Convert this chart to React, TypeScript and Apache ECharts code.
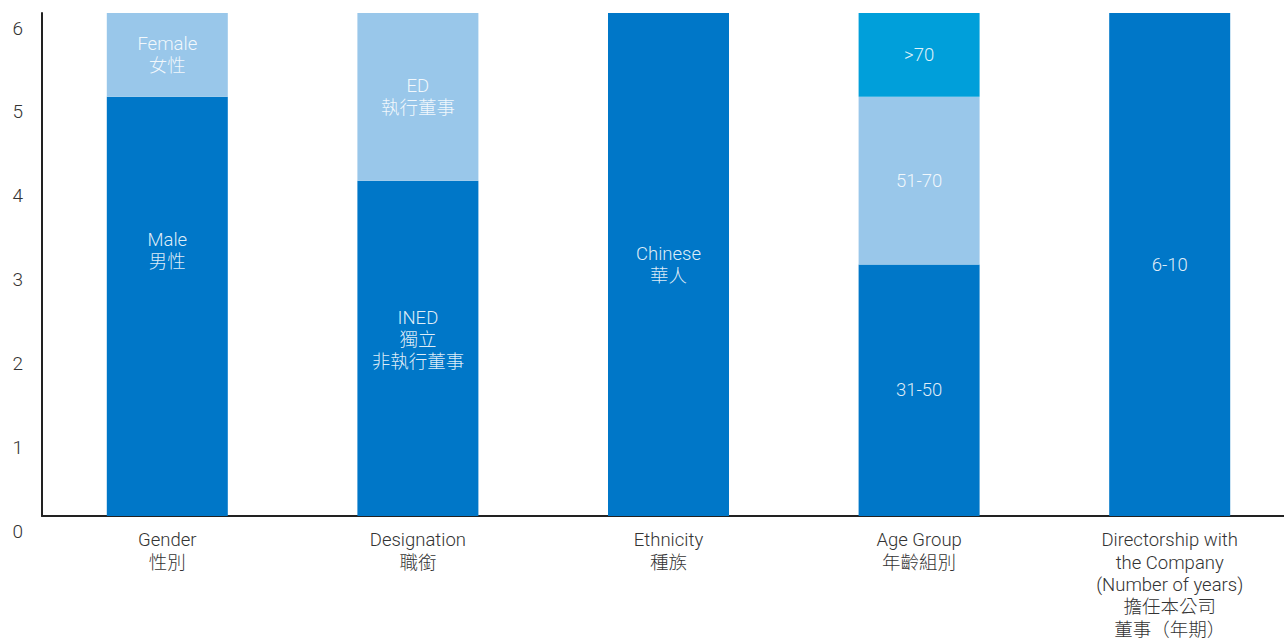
import React, { useEffect, useRef } from "react";
import * as echarts from "echarts";

const categories = [
  "Gender\n性別",
  "Designation\n職銜",
  "Ethnicity\n種族",
  "Age Group\n年齡組別",
  "Directorship with\nthe Company\n(Number of years)\n擔任本公司\n董事（年期）",
];
const yTicks = [0, 1, 2, 3, 4, 5, 6];

const baseValues = [5, 4, 6, 3, 6];
const baseLabels = ["Male\n男性", "INED\n獨立\n非執行董事", "Chinese\n華人", "31-50", "6-10"];
const midValues = [1, 2, null, 2, null];
const midLabels = ["Female\n女性", "ED\n執行董事", "", "51-70", ""];
const topValues = [null, null, null, 1, null];
const topLabels = ["", "", "", ">70", ""];

const FONT = "Roboto, 'Noto Sans CJK TC', sans-serif";
const DARK = "#0077C8";
const LIGHT = "#99C7EA";
const MIDBLUE = "#009FDA";

const labelOffsets: Record<number, number[]> = { 0: [0, -55], 1: [0, -8] };

function buildData(values: (number | null)[], labels: string[], color: string, useOffsets: boolean) {
  return values.map((v, i) => ({
    value: v,
    itemStyle: { color },
    label: {
      show: v != null,
      formatter: labels[i],
      offset: useOffsets && labelOffsets[i] ? labelOffsets[i] : [0, 0],
    },
  }));
}

export default function App() {
  const ref = useRef<HTMLDivElement>(null);
  useEffect(() => {
    const chart = echarts.init(ref.current!, null, { renderer: "svg" });
    const commonLabel = {
      show: true,
      position: "inside",
      color: "rgba(255,255,255,0.88)",
      fontSize: 18.5,
      fontFamily: FONT,
      fontWeight: 300,
      lineHeight: 22,
    };
    chart.setOption({
      animation: false,
      grid: { left: 42, top: 13, bottom: 123, right: 0, containLabel: false, outerBoundsMode: "none" },
      xAxis: {
        type: "category",
        data: categories,
        axisLine: { show: true, lineStyle: { color: "#222", width: 2 } },
        axisTick: { show: false },
        axisLabel: {
          color: "#333",
          fontSize: 18.5,
          fontFamily: FONT,
          fontWeight: 300,
          lineHeight: 22.4,
          margin: 13,
          interval: 0,
        },
      },
      yAxis: {
        type: "value",
        min: 0,
        max: 6,
        interval: 1,
        axisLine: { show: true, lineStyle: { color: "#222", width: 2 } },
        axisTick: { show: false },
        splitLine: { show: false },
        axisLabel: {
          color: "#333",
          fontSize: 19,
          fontFamily: FONT,
          fontWeight: 300,
          verticalAlign: "top",
          lineHeight: 30,
          margin: 19,
          formatter: (v: number) => (yTicks.includes(v) ? String(v) : ""),
        },
      },
      series: [
        {
          type: "bar",
          stack: "s",
          barWidth: 121,
          label: commonLabel,
          data: buildData(baseValues, baseLabels, DARK, true),
        },
        {
          type: "bar",
          stack: "s",
          barWidth: 121,
          label: commonLabel,
          data: buildData(midValues, midLabels, LIGHT, false),
        },
        {
          type: "bar",
          stack: "s",
          barWidth: 121,
          label: commonLabel,
          data: buildData(topValues, topLabels, MIDBLUE, false),
        },
      ],
    });
    return () => chart.dispose();
  }, []);
  return (
    <div
      style={{ position: "fixed", left: 0, top: 0, width: 1284, height: 639, overflow: "hidden", background: "#fff" }}
    >
      <div ref={ref} style={{ width: 1294.5, height: 639 }} />
    </div>
  );
}
